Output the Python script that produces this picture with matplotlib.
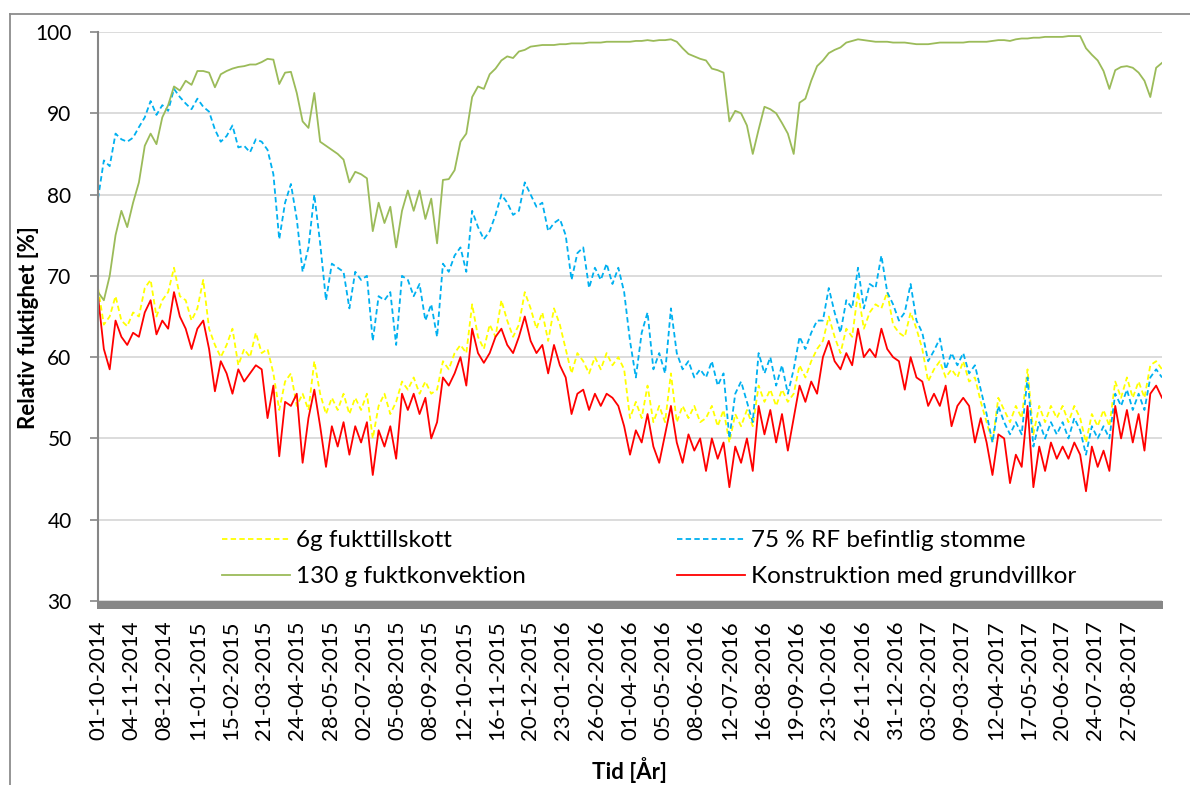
import numpy as np
import pandas as pd
import matplotlib
matplotlib.use('Agg')
import matplotlib.pyplot as plt
from matplotlib.lines import Line2D
from matplotlib.patches import Rectangle

plt.rcParams['font.family'] = ['Lato', 'DejaVu Sans']

start = pd.Timestamp('2014-10-01')
end = pd.Timestamp('2017-10-01')

# relativ fuktighet [%], ungefär var sjätte dag
fukt_6g = [
    68.5, 64.0, 65.0, 67.5, 64.5, 63.8, 65.5, 65.0, 68.5, 69.5,
    65.0, 67.0, 68.0, 71.0, 67.5, 67.0, 64.5, 66.0, 69.5, 63.5,
    61.5, 60.0, 61.5, 63.5, 59.0, 61.0, 60.0, 63.0, 60.5, 61.0,
    58.0, 53.5, 57.0, 58.0, 54.0, 55.5, 53.5, 59.5, 55.5, 53.0,
    55.0, 53.5, 55.5, 53.0, 55.0, 53.5, 55.5, 50.0, 54.0, 55.5,
    53.0, 54.5, 57.0, 56.0, 57.5, 55.5, 57.0, 55.5, 56.0, 59.5,
    58.5, 60.5, 61.5, 60.5, 66.5, 62.5, 61.0, 64.0, 62.5, 67.0,
    64.5, 62.5, 64.0, 68.0, 66.0, 63.5, 65.5, 62.0, 66.0, 64.0,
    61.0, 58.0, 60.5, 59.5, 58.0, 60.0, 58.5, 60.5, 59.0, 60.0,
    58.5, 52.5, 54.5, 52.5, 56.5, 52.0, 54.0, 52.0, 58.0, 52.0,
    54.0, 52.5, 54.0, 52.0, 52.5, 54.0, 51.5, 53.5, 49.5, 53.0,
    51.5, 53.5, 51.5, 56.5, 54.5, 56.0, 54.0, 56.0, 54.5, 55.5,
    59.0, 57.5, 59.5, 61.0, 62.0, 65.0, 62.5, 60.5, 63.5, 62.5,
    68.0, 63.5, 65.5, 66.5, 66.0, 68.0, 64.0, 63.0, 62.5, 65.5,
    63.5, 61.0, 57.0, 58.5, 59.5, 57.5, 58.5, 57.5, 59.5, 57.0,
    57.5, 54.5, 52.0, 49.5, 55.0, 53.5, 52.0, 54.0, 52.5, 58.5,
    50.5, 54.0, 52.0, 54.0, 52.5, 54.0, 52.0, 54.0, 52.5, 49.5,
    53.0, 51.5, 53.5, 51.5, 57.0, 55.0, 57.5, 55.0, 57.0, 55.0,
    59.0, 59.5, 58.5,
]

rf_75 = [
    79.5, 84.2, 83.5, 87.5, 86.8, 86.5, 87.0, 88.3, 89.5, 91.5,
    89.8, 91.0, 90.3, 93.0, 92.0, 91.2, 90.5, 91.8, 90.8, 90.2,
    88.0, 86.5, 87.2, 88.5, 85.8, 86.0, 85.2, 86.8, 86.5, 85.5,
    82.5, 74.5, 79.0, 81.3, 77.0, 70.5, 73.5, 80.0, 74.0, 67.0,
    71.5, 71.0, 70.5, 66.0, 70.5, 69.5, 70.0, 62.0, 67.5, 67.0,
    68.0, 61.5, 70.0, 69.5, 67.5, 69.0, 64.5, 66.5, 62.5, 71.5,
    70.5, 72.5, 73.5, 70.5, 78.0, 76.0, 74.5, 75.5, 77.5, 80.0,
    79.0, 77.5, 78.0, 81.5, 80.0, 78.5, 79.0, 75.5, 76.5, 77.0,
    75.0, 69.5, 72.8, 73.5, 68.5, 71.0, 69.5, 71.5, 69.0, 71.0,
    68.0, 62.0, 57.5, 63.0, 65.5, 58.5, 60.5, 58.0, 66.0, 60.5,
    58.5, 59.5, 57.5, 58.5, 57.5, 59.5, 56.5, 58.0, 50.0, 55.5,
    57.0, 54.5, 52.0, 60.5, 58.0, 60.0, 56.5, 59.0, 55.5, 58.5,
    62.5, 61.0, 63.0, 64.5, 64.5, 68.5, 65.5, 63.0, 67.0, 66.0,
    71.0, 66.0, 69.0, 68.5, 72.5, 68.0, 66.5, 64.5, 65.5, 69.0,
    64.5, 63.0, 59.5, 60.8, 62.3, 58.5, 60.5, 59.0, 60.5, 58.0,
    59.0, 56.0, 53.0, 49.5, 54.0, 52.0, 50.5, 52.0, 50.5, 57.5,
    49.0, 52.0, 50.0, 52.0, 50.5, 52.0, 50.0, 52.5, 51.0, 48.0,
    51.5, 50.0, 51.5, 50.0, 55.5, 54.0, 56.0, 53.5, 55.5, 53.5,
    57.5, 58.5, 57.5,
]

konv_130g = [
    68.0, 67.0, 70.0, 75.0, 78.0, 76.0, 79.0, 81.5, 86.0, 87.5,
    86.2, 89.5, 91.0, 93.3, 92.8, 94.0, 93.5, 95.2, 95.2, 95.0,
    93.2, 94.8, 95.2, 95.5, 95.7, 95.8, 96.0, 96.0, 96.3, 96.7,
    96.6, 93.6, 95.0, 95.1, 92.5, 89.0, 88.2, 92.5, 86.5, 86.0,
    85.5, 85.0, 84.3, 81.5, 82.8, 82.5, 82.0, 75.5, 79.0, 76.5,
    78.5, 73.5, 78.0, 80.5, 78.0, 80.5, 77.0, 79.5, 74.0, 81.8,
    81.9, 83.0, 86.5, 87.5, 92.0, 93.3, 93.0, 94.8, 95.5, 96.5,
    97.0, 96.8, 97.6, 97.8, 98.2, 98.3, 98.4, 98.4, 98.4, 98.5,
    98.5, 98.6, 98.6, 98.6, 98.7, 98.7, 98.7, 98.8, 98.8, 98.8,
    98.8, 98.8, 98.9, 98.9, 99.0, 98.9, 99.0, 99.0, 99.1, 98.8,
    98.0, 97.3, 97.0, 96.7, 96.5, 95.5, 95.3, 95.0, 89.0, 90.3,
    90.0, 88.5, 85.0, 88.0, 90.8, 90.5, 90.0, 88.8, 87.5, 85.0,
    91.3, 91.8, 94.0, 95.8, 96.5, 97.4, 97.8, 98.1, 98.7, 98.9,
    99.1, 99.0, 98.9, 98.8, 98.8, 98.8, 98.7, 98.7, 98.7, 98.6,
    98.5, 98.5, 98.5, 98.6, 98.7, 98.7, 98.7, 98.7, 98.7, 98.8,
    98.8, 98.8, 98.8, 98.9, 99.0, 99.0, 98.9, 99.1, 99.2, 99.2,
    99.3, 99.3, 99.4, 99.4, 99.4, 99.4, 99.5, 99.5, 99.5, 98.0,
    97.2, 96.5, 95.2, 93.0, 95.3, 95.7, 95.8, 95.6, 95.0, 94.0,
    92.0, 95.6, 96.2,
]

grund = [
    67.5, 61.0, 58.5, 64.5, 62.5, 61.5, 63.0, 62.5, 65.5, 67.0,
    62.8, 64.5, 63.5, 68.0, 65.0, 63.5, 61.0, 63.5, 64.5, 61.0,
    55.8, 59.5, 58.0, 55.5, 58.5, 57.0, 58.0, 59.0, 58.5, 52.5,
    56.5, 47.8, 54.5, 54.0, 55.5, 47.0, 52.5, 56.0, 51.5, 46.5,
    51.5, 49.0, 52.0, 48.0, 51.5, 49.5, 52.0, 45.5, 51.0, 49.0,
    51.5, 47.5, 55.5, 53.5, 55.5, 53.0, 55.0, 50.0, 52.0, 57.5,
    56.5, 58.0, 60.0, 56.5, 63.5, 60.5, 59.3, 60.5, 62.5, 63.5,
    61.5, 60.5, 62.5, 65.0, 62.0, 60.5, 61.5, 58.0, 61.5, 59.0,
    57.5, 53.0, 55.5, 56.0, 53.5, 55.5, 54.0, 55.5, 55.0, 54.0,
    51.5, 48.0, 51.0, 49.5, 53.0, 49.0, 47.0, 50.5, 54.0, 49.5,
    47.0, 50.5, 48.5, 50.0, 46.0, 50.0, 47.5, 49.5, 44.0, 49.0,
    47.0, 50.0, 46.0, 54.0, 50.5, 53.5, 49.5, 53.0, 48.5, 52.5,
    56.5, 54.5, 57.0, 55.5, 60.0, 62.0, 59.5, 58.5, 60.5, 59.0,
    63.5, 60.0, 61.0, 60.0, 63.5, 61.0, 60.0, 59.5, 56.0, 60.0,
    57.5, 57.0, 54.0, 55.5, 54.0, 56.5, 51.5, 54.0, 55.0, 54.0,
    49.5, 52.5, 49.5, 45.5, 50.5, 50.0, 44.5, 48.0, 46.5, 54.0,
    44.0, 49.0, 46.0, 49.5, 47.5, 49.0, 47.5, 49.5, 48.0, 43.5,
    49.0, 46.5, 48.5, 46.0, 54.0, 50.0, 53.5, 49.5, 53.0, 48.5,
    55.5, 56.5, 55.0,
]

n = len(grund)
tid = start + pd.to_timedelta(np.linspace(0, (end - start).days, n), unit='D')

# etiketter var 822:e timme (34,25 dygn)
tick_tider = [start + pd.Timedelta(hours=822 * k) for k in range(32)]
tick_text = [t.strftime('%d-%m-%Y') for t in tick_tider]

fig = plt.figure(figsize=(11.9, 7.85), dpi=100)
ax = fig.add_axes([98 / 1190, 1 - 601 / 785, 1064 / 1190, 569 / 785])

l1, = ax.plot(tid, fukt_6g, color='#FFFF00', lw=1.3, ls=(0, (3, 1.8)))
l2, = ax.plot(tid, rf_75, color='#00B0F0', lw=1.3, ls=(0, (3, 1.8)))
l3, = ax.plot(tid, konv_130g, color='#9BBB59', lw=1.3)
l4, = ax.plot(tid, grund, color='#FF0000', lw=1.3)

ax.set_xlim(start, end)
ax.set_ylim(30, 100)
ax.set_yticks(np.arange(30, 101, 10))
ax.set_xticks(tick_tider)
ax.set_xticklabels(tick_text, rotation=90, fontsize=16)
ax.tick_params(axis='x', length=0, pad=14)
ax.tick_params(axis='y', labelsize=15, length=6, width=1.2, color='#868686', pad=13)
ax.grid(axis='y', color='#D9D9D9', lw=1.3)
ax.set_axisbelow(True)
for s in ['top', 'right', 'bottom']:
    ax.spines[s].set_visible(False)
ax.spines['left'].set_color('#868686')
ax.spines['left'].set_linewidth(1.5)

ax.set_ylabel('Relativ fuktighet [%]', fontsize=16, fontweight='bold')
ax.yaxis.set_label_coords(-0.055, 0.48)
ax.set_xlabel('Tid [År]', fontsize=16, fontweight='bold')
ax.xaxis.set_label_coords(0.5, -0.275)

# grå x-axel
fig.add_artist(Rectangle((97 / 1190, 1 - 609 / 785), 1066 / 1190, 8 / 785,
                         transform=fig.transFigure, color='#878787', lw=0))

# ram runt diagrammet
fig.add_artist(Line2D([10 / 1190, 10 / 1190], [0, 1 - 14 / 785],
                      transform=fig.transFigure, color='#8C8C8C', lw=1.3))
fig.add_artist(Line2D([10 / 1190, 1], [1 - 14 / 785, 1 - 14 / 785],
                      transform=fig.transFigure, color='#8C8C8C', lw=1.3))

ax.legend([l1, l3, l2, l4],
          ['6g fukttillskott', '130 g fuktkonvektion',
           '75 % RF befintlig stomme', 'Konstruktion med grundvillkor'],
          ncol=2, loc='upper left', bbox_to_anchor=(222 / 1190, 1 - 530 / 785),
          bbox_transform=fig.transFigure, frameon=False, fontsize=17.5,
          handlelength=2.8, handletextpad=0.25, columnspacing=6.2,
          labelspacing=0.62, borderpad=0, borderaxespad=0)

fig.savefig('out.png', dpi=100)
